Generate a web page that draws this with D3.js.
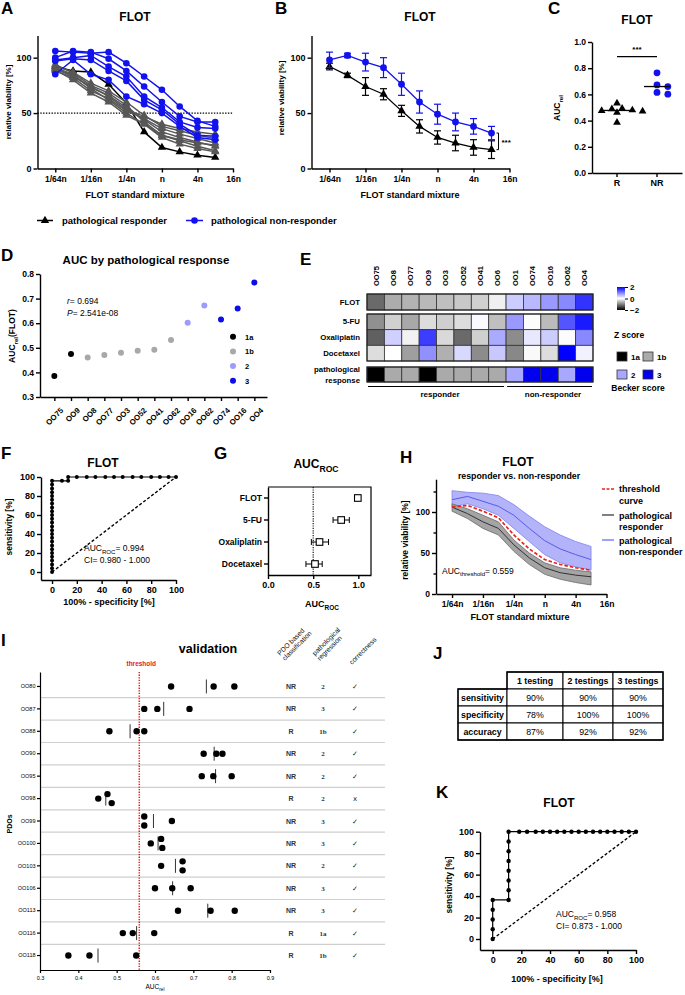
<!DOCTYPE html>
<html><head><meta charset="utf-8">
<script src="https://cdn.jsdelivr.net/npm/d3@7"></script>
<style>body{margin:0;background:#fff}</style>
</head><body>
<svg id="chart" width="685" height="995" xmlns="http://www.w3.org/2000/svg"></svg>
<script>
// ================= DATA =================
const concLabels = ["1/64n","1/32n","1/16n","1/8n","1/4n","1/2n","n","2n","4n","8n","16n"];
const concTickIdx = [0,2,4,6,8,10];
// Panel A: individual curves (relative viability %)
const respCurves = [
  [92, 88, 87, 76, 59, 33, 19, 15, 12, 10],
  [94, 86, 75, 68, 57, 42, 30, 25, 20, 16],
  [90, 84, 73, 66, 55, 44, 33, 28, 24, 20],
  [88, 82, 70, 63, 52, 45, 36, 31, 27, 23],
  [91, 85, 72, 62, 50, 40, 28, 22, 18, 15],
  [89, 80, 68, 60, 48, 40, 30, 26, 23, 21],
  [93, 87, 77, 70, 60, 48, 38, 34, 30, 27],
  [90, 83, 74, 65, 53, 47, 40, 36, 33, 31]
];
const nonRespCurves = [
  [106, 105, 104, 105, 95, 83, 71, 56, 43, 38],
  [100, 106, 105, 99, 88, 74, 60, 47, 42, 42],
  [98, 100, 102, 92, 83, 65, 55, 42, 37, 36],
  [97, 99, 98, 88, 79, 62, 53, 40, 30, 29],
  [85, 98, 85, 80, 65, 58, 50, 38, 28, 26]
];
// Panel B: mean +- SD
const bRespMean = [92, 84, 74, 67, 52, 38, 28, 23, 19, 17];
const bRespSD   = [3, 2, 8, 5, 5, 6, 6, 7, 7, 8];
const bNonMean  = [98, 102, 96, 91, 76, 60, 49, 42, 38, 32];
const bNonSD    = [7, 2, 8, 9, 10, 10, 9, 8, 7, 6];
// Panel C / D: AUC values
const dLabels = ["OO75","OO9","OO8","OO77","OO3","OO52","OO41","OO62","OO16","OO62","OO74","OO16","OO4"];
const dAUC    = [0.385,0.475,0.461,0.471,0.48,0.488,0.492,0.532,0.602,0.672,0.615,0.66,0.765];
const dBecker = ["1a","1a","1b","1b","1b","1b","1b","1b","2","2","3","3","3"];
const beckerLevels = ["1a","1b","2","3"];
const cGroups = ["R","NR"];
// Panel E: heatmap z-scores
const eCols = ["OO75","OO8","OO77","OO9","OO3","OO52","OO41","OO6","OO1","OO74","OO16","OO62","OO4"];
const zFLOT = [-1.17,-0.65,-0.6,-0.55,-0.5,-0.43,-0.37,-0.12,0.4,0.55,0.8,0.93,1.6];
const z5FU  = [-0.87,-0.37,-0.68,-0.27,-0.38,-0.27,0.05,-0.5,0.8,-0.02,-0.53,1.33,1.8];
const zOxa  = [-1.25,0.37,-0.1,1.52,-0.3,-1.17,-0.38,0.67,-0.9,0.18,0.4,-0.02,0.93];
const zDoc  = [-0.27,0,-0.75,0.87,-0.62,0.3,-0.9,0.43,-0.93,-0.05,-0.27,2,0.1];
const eBecker = ["1a","1b","1b","1a","1b","1b","1b","1b","2","3","3","2","3"];
const zTicks = [-2,0,2];
// Panel F: ROC
const fFPR = [0,0,0,0,0,0,0,0,0,0,0,0,0,0,0,0,0,0,0,0,0,0,0,0,0,8,13,13,20,28,35,43,50,57,65,72,80,87,94,100];
const fTPR = [0,4,8,12,16,20,24,28,32,36,40,44,48,52,56,60,64,68,72,76,80,84,88,92,96,96,96,100,100,100,100,100,100,100,100,100,100,100,100,100];
// Panel G: AUC ROC per drug
const gDrugs = ["FLOT","5-FU","Oxaliplatin","Docetaxel"];
const gAUC = [0.994, 0.81, 0.57, 0.52];
const gLo  = [0.98, 0.72, 0.48, 0.42];
const gHi  = [1.0, 0.90, 0.67, 0.60];
// Panel H: bands
const hNRup   = [126, 124, 123, 120, 109, 95, 82, 72, 64, 58];
const hNRmean = [115, 119, 113, 107, 96, 80, 65, 55, 48, 42];
const hNRlo   = [106, 110, 104, 96, 80, 64, 48, 38, 33, 29];
const hThr    = [106, 108, 101, 93, 72, 55, 42, 36, 32, 29];
const hRup    = [110, 104, 96, 88, 66, 50, 38, 32, 29, 27];
const hRmean  = [106, 98, 88, 80, 60, 44, 32, 26, 23, 21];
const hRlo    = [101, 92, 80, 72, 52, 36, 24, 18, 14, 11];
// Panel I: validation
const iPDO = ["OO80","OO87","OO88","OO90","OO95","OO98","OO99","OO100","OO103","OO106","OO113","OO116","OO118"];
const iAUC = [
  [0.642,0.753,0.807],[0.572,0.606,0.69],[0.481,0.552,0.572],[0.727,0.76,0.776],
  [0.722,0.752,0.80],[0.452,0.476,0.487],[0.572,0.572,0.644],[0.589,0.616,0.619],
  [0.616,0.672,0.672],[0.60,0.645,0.693],[0.66,0.745,0.808],[0.516,0.542,0.598],
  [0.374,0.429,0.551]
];
const iClass = ["NR","NR","R","NR","NR","R","NR","NR","NR","NR","NR","R","R"];
const iRegr  = ["2","3","1b","2","2","2","3","3","2","3","3","1a","1b"];
const iCorrect = ["✓","✓","✓","✓","✓","x","✓","✓","✓","✓","✓","✓","✓"];
const iThreshold = 0.559;
// Panel J: table
const jHeader = ["1 testing","2 testings","3 testings"];
const jRows = ["sensitivity","specificity","accuracy"];
const jValues = [["90%","90%","90%"],["78%","100%","100%"],["87%","92%","92%"]];
// Panel K: ROC
const kFPR = [0,0,0,0,0,11.1,11.1,11.1,11.1,11.1,11.1,11.1,11.1,18.5,24,30,35,40,45,50,55,60,65,70,75,80,85,90,95,100];
const kTPR = [0,9.1,18.2,27.3,36.4,36.4,45.5,54.5,63.6,72.7,81.8,90.9,100,100,100,100,100,100,100,100,100,100,100,100,100,100,100,100,100,100];

// ================= HELPERS =================
const FONT = "'Liberation Sans', Arial, sans-serif";
const BLUE = "#1212ee";
const svg = d3.select("#chart");
svg.append("rect").attr("width",685).attr("height",995).attr("fill","#fff");

function styleAxis(g, fs, sw) {
  fs = fs || 9; sw = sw || 1.4;
  g.select(".domain").attr("stroke","#000").attr("stroke-width",sw);
  g.selectAll(".tick line").attr("stroke","#000").attr("stroke-width",sw);
  g.selectAll(".tick text").attr("font-size",fs).attr("font-weight","bold").attr("fill","#000").attr("font-family",FONT);
}
function addText(g, x, y, str, o) {
  o = o || {};
  const t = g.append("text").attr("x",x).attr("y",y).text(str)
    .attr("font-size",o.fs||9).attr("font-weight",o.fw||"bold")
    .attr("text-anchor",o.anchor||"start").attr("fill",o.fill||"#000")
    .attr("font-family",o.ff||FONT);
  if (o.rotate) t.attr("transform",`rotate(${o.rotate},${x},${y})`);
  if (o.italic) t.attr("font-style","italic");
  return t;
}
function addSub(g, x, y, parts, o) {
  o = o || {};
  const fs = o.fs || 9;
  const t = g.append("text").attr("x",x).attr("y",y)
    .attr("font-size",fs).attr("font-weight",o.fw||"bold")
    .attr("text-anchor",o.anchor||"start").attr("fill",o.fill||"#000").attr("font-family",FONT);
  if (o.rotate) t.attr("transform",`rotate(${o.rotate},${x},${y})`);
  let prevSub = false;
  parts.forEach(([s, sub]) => {
    const ts = t.append("tspan").text(s).attr("font-size", sub ? fs*0.72 : fs);
    if (sub && !prevSub) ts.attr("dy", fs*0.3);
    if (!sub && prevSub) ts.attr("dy", -fs*0.3);
    prevSub = sub;
  });
  return t;
}
function panelLetter(x, y, s) { addText(svg, x, y, s, {fs:17}); }
const tri = d3.symbol().type(d3.symbolTriangle).size(30);

// ================= PANEL A =================
(function(){
  const g = svg.append("g");
  const x = d3.scaleLinear().domain([-1,10]).range([37.5,233]);
  const y = d3.scaleLinear().domain([0,120]).range([168.5,35.5]);
  g.append("line").attr("x1",x(-1)).attr("x2",x(10)).attr("y1",y(50)).attr("y2",y(50))
    .attr("stroke","#000").attr("stroke-width",1.2).attr("stroke-dasharray","1.4,1.4");
  const line = d3.line().x((d,i)=>x(i)).y(d=>y(d));
  respCurves.forEach((c,k)=>{
    const col = k===0 ? "#000" : "#575757";
    g.append("path").attr("d",line(c)).attr("fill","none").attr("stroke",col).attr("stroke-width",1.5);
    g.selectAll(null).data(c).enter().append("path").attr("d",tri)
      .attr("transform",(d,i)=>`translate(${x(i)},${y(d)})`).attr("fill",col);
  });
  nonRespCurves.forEach(c=>{
    g.append("path").attr("d",line(c)).attr("fill","none").attr("stroke",BLUE).attr("stroke-width",1.5);
    g.selectAll(null).data(c).enter().append("circle").attr("cx",(d,i)=>x(i)).attr("cy",d=>y(d)).attr("r",3.3).attr("fill",BLUE);
  });
  g.append("g").attr("transform","translate(0,168.5)")
    .call(d3.axisBottom(x).tickValues(concTickIdx).tickFormat(i=>concLabels[i]).tickSize(4).tickSizeOuter(0).tickPadding(3)).call(styleAxis,8.5);
  g.append("g").attr("transform","translate(37.5,0)")
    .call(d3.axisLeft(y).tickValues([0,50,100]).tickSize(4).tickSizeOuter(0).tickPadding(2)).call(styleAxis,9);
  addText(g, 135, 21, "FLOT", {fs:12, anchor:"middle"});
  addText(g, 11, 102, "relative viability [%]", {fs:8, anchor:"middle", rotate:-90});
  addText(g, 135, 198, "FLOT standard mixture", {fs:9, anchor:"middle"});
  panelLetter(1, 14, "A");
})();

// ================= PANEL B =================
(function(){
  const g = svg.append("g");
  const x = d3.scaleLinear().domain([-1,10]).range([311.5,509.5]);
  const y = d3.scaleLinear().domain([0,120]).range([168.5,35.5]);
  const line = d3.line().x((d,i)=>x(i)).y(d=>y(d));
  function series(mean, sd, col, isTri) {
    g.append("path").attr("d",line(mean)).attr("fill","none").attr("stroke",col).attr("stroke-width",1.3);
    const eb = g.selectAll(null).data(mean).enter().append("g");
    eb.append("line").attr("x1",(d,i)=>x(i)).attr("x2",(d,i)=>x(i))
      .attr("y1",(d,i)=>y(d-sd[i])).attr("y2",(d,i)=>y(d+sd[i])).attr("stroke",col).attr("stroke-width",1.2);
    eb.append("line").attr("x1",(d,i)=>x(i)-3.5).attr("x2",(d,i)=>x(i)+3.5)
      .attr("y1",(d,i)=>y(d+sd[i])).attr("y2",(d,i)=>y(d+sd[i])).attr("stroke",col).attr("stroke-width",1.2);
    eb.append("line").attr("x1",(d,i)=>x(i)-3.5).attr("x2",(d,i)=>x(i)+3.5)
      .attr("y1",(d,i)=>y(d-sd[i])).attr("y2",(d,i)=>y(d-sd[i])).attr("stroke",col).attr("stroke-width",1.2);
    if (isTri) eb.append("path").attr("d",tri).attr("transform",(d,i)=>`translate(${x(i)},${y(d)})`).attr("fill",col);
    else eb.append("circle").attr("cx",(d,i)=>x(i)).attr("cy",d=>y(d)).attr("r",3.4).attr("fill",col);
  }
  series(bRespMean, bRespSD, "#000", true);
  series(bNonMean, bNonSD, BLUE, false);
  // significance bracket
  const bx = x(9)+7;
  g.append("path").attr("d",`M${bx-2},${y(bNonMean[9])}H${bx}V${y(bRespMean[9])}H${bx-2}`)
    .attr("fill","none").attr("stroke","#000").attr("stroke-width",1);
  addText(g, bx+3, (y(bNonMean[9])+y(bRespMean[9]))/2+4, "***", {fs:8});
  g.append("g").attr("transform","translate(0,168.5)")
    .call(d3.axisBottom(x).tickValues(concTickIdx).tickFormat(i=>concLabels[i]).tickSize(4).tickSizeOuter(0).tickPadding(3)).call(styleAxis,8.5);
  g.append("g").attr("transform","translate(311.5,0)")
    .call(d3.axisLeft(y).tickValues([0,50,100]).tickSize(4).tickSizeOuter(0).tickPadding(2)).call(styleAxis,9);
  addText(g, 420, 21, "FLOT", {fs:12, anchor:"middle"});
  addText(g, 284, 98, "relative viability [%]", {fs:8, anchor:"middle", rotate:-90});
  addText(g, 410, 198, "FLOT standard mixture", {fs:9, anchor:"middle"});
  panelLetter(275, 14, "B");
  // legend (A/B)
  svg.append("line").attr("x1",37).attr("x2",53).attr("y1",220.5).attr("y2",220.5).attr("stroke","#000").attr("stroke-width",1.5);
  svg.append("path").attr("d",tri).attr("transform","translate(45,220.5)").attr("fill","#000");
  addText(svg, 62, 224, "pathological responder", {fs:9.5});
  svg.append("line").attr("x1",186).attr("x2",203).attr("y1",220.5).attr("y2",220.5).attr("stroke",BLUE).attr("stroke-width",1.5);
  svg.append("circle").attr("cx",194.5).attr("cy",220.5).attr("r",3.3).attr("fill",BLUE);
  addText(svg, 211, 224, "pathological non-responder", {fs:9.5});
})();

// ================= PANEL C =================
(function(){
  const g = svg.append("g");
  const y = d3.scaleLinear().domain([0,1]).range([173,42]);
  const x = d3.scaleBand().domain(cGroups).range([592,682]).paddingInner(0).paddingOuter(0.125);
  const rVals = dAUC.filter((d,i)=>dBecker[i]==="1a"||dBecker[i]==="1b");
  const nrVals = dAUC.filter((d,i)=>dBecker[i]==="2"||dBecker[i]==="3");
  function swarm(vals, cx, rad) {
    const placed = [];
    const idx = vals.map((v,i)=>i).sort((a,b)=>d3.descending(vals[a],vals[b]));
    const out = new Array(vals.length);
    idx.forEach(i=>{
      const py = y(vals[i]);
      for (let k=0;k<20;k++){
        const off = (k===0?0:(k%2? 1:-1)*Math.ceil(k/2)*rad*1.55);
        const px = cx+off;
        if (placed.every(p=>Math.hypot(p[0]-px,p[1]-py)>=rad*1.7)) { placed.push([px,py]); out[i]=[px,py]; break; }
      }
    });
    return out;
  }
  const cx = g=>x(g)+x.bandwidth()/2;
  const rPos = swarm(rVals, cx("R"), 3.3);
  const nrPos = swarm(nrVals, cx("NR"), 3.5);
  g.selectAll(null).data(rPos).enter().append("path").attr("d",d3.symbol().type(d3.symbolTriangle).size(26))
    .attr("transform",d=>`translate(${d[0]},${d[1]})`).attr("fill","#000");
  g.selectAll(null).data(nrPos).enter().append("circle").attr("cx",d=>d[0]).attr("cy",d=>d[1]).attr("r",3.4).attr("fill",BLUE);
  [[rVals,"R"],[nrVals,"NR"]].forEach(([v,k])=>{
    g.append("line").attr("x1",cx(k)-13).attr("x2",cx(k)+13).attr("y1",y(d3.median(v))).attr("y2",y(d3.median(v)))
      .attr("stroke","#000").attr("stroke-width",1.3);
  });
  g.append("line").attr("x1",cx("R")).attr("x2",cx("NR")).attr("y1",56.7).attr("y2",56.7).attr("stroke","#000").attr("stroke-width",1.2);
  addText(g, (cx("R")+cx("NR"))/2, 52, "***", {fs:8, anchor:"middle"});
  g.append("g").attr("transform","translate(0,173)")
    .call(d3.axisBottom(x).tickSize(4).tickSizeOuter(0).tickPadding(3)).call(styleAxis,9);
  g.append("g").attr("transform","translate(592,0)")
    .call(d3.axisLeft(y).tickValues([0,0.2,0.4,0.6,0.8,1.0]).tickFormat(d3.format(".1f")).tickSize(4).tickSizeOuter(0).tickPadding(2)).call(styleAxis,8.5);
  addText(g, 637, 24, "FLOT", {fs:12, anchor:"middle"});
  addSub(g, 560, 108, [["AUC",false],["rel",true]], {fs:8.5, anchor:"middle", rotate:-90});
  panelLetter(548, 14, "C");
})();

// ================= PANEL D =================
(function(){
  const g = svg.append("g");
  const y = d3.scaleLinear().domain([0.3,0.8]).range([397,274]);
  const x = d3.scaleLinear().domain([-0.86,12.76]).range([40,267]);
  const bcol = d3.scaleOrdinal().domain(beckerLevels).range(["#000","#a8a8a8","#9c9cff","#0d0de8"]);
  g.selectAll(null).data(dAUC).enter().append("circle").attr("cx",(d,i)=>x(i)).attr("cy",d=>y(d)).attr("r",3)
    .attr("fill",(d,i)=>bcol(dBecker[i]));
  const ax = g.append("g").attr("transform","translate(0,397)")
    .call(d3.axisBottom(x).tickValues(d3.range(dLabels.length)).tickFormat(i=>dLabels[i]).tickSize(4).tickSizeOuter(0)).call(styleAxis,7.8);
  ax.selectAll(".tick text").attr("text-anchor","end").attr("dy",0).attr("dx",0)
    .attr("transform","translate(4,9) rotate(-45)");
  g.append("g").attr("transform","translate(40,0)")
    .call(d3.axisLeft(y).tickValues([0.3,0.4,0.5,0.6,0.7,0.8]).tickFormat(d3.format(".1f")).tickSize(4).tickSizeOuter(0).tickPadding(2)).call(styleAxis,8.5);
  addText(g, 146, 264, "AUC by pathological response", {fs:11.5, anchor:"middle"});
  addSub(g, 15, 336, [["AUC",false],["rel",true],["(FLOT)",false]], {fs:8.5, anchor:"middle", rotate:-90});
  const t1 = g.append("text").attr("x",67).attr("y",304).attr("font-size",8.5).attr("font-family",FONT);
  t1.append("tspan").text("r").attr("font-style","italic"); t1.append("tspan").text("= 0.694");
  const t2 = g.append("text").attr("x",67).attr("y",316).attr("font-size",8.5).attr("font-family",FONT);
  t2.append("tspan").text("P").attr("font-style","italic"); t2.append("tspan").text("= 2.541e-08");
  beckerLevels.forEach((b,i)=>{
    const yy = 336.7 + i*14.7;
    g.append("circle").attr("cx",233).attr("cy",yy).attr("r",3).attr("fill",bcol(b));
    addText(g, 245, yy+3, b, {fs:7.5});
  });
  panelLetter(1, 261, "D");
})();

// ================= PANEL E =================
(function(){
  const g = svg.append("g");
  const x = d3.scaleBand().domain(eCols).range([367,593]);
  const zc = d3.scaleLinear().domain([-2,0,2]).range(["#000000","#ffffff","#0000ff"]).clamp(true);
  const bcol = d3.scaleOrdinal().domain(beckerLevels).range(["#000","#aaaaaa","#a8a8ff","#0000ee"]);
  const y1 = d3.scaleBand().domain(["FLOT"]).range([294,310]);
  const y2 = d3.scaleBand().domain(["5-FU","Oxaliplatin","Docetaxel"]).range([314,361]);
  const y3 = d3.scaleBand().domain(["pathological response"]).range([367,382]);
  const rows = [["FLOT",zFLOT,y1],["5-FU",z5FU,y2],["Oxaliplatin",zOxa,y2],["Docetaxel",zDoc,y2]];
  rows.forEach(([name,vals,ys])=>{
    g.selectAll(null).data(vals).enter().append("rect")
      .attr("x",(d,i)=>x(eCols[i])).attr("y",ys(name)).attr("width",x.bandwidth()).attr("height",ys.bandwidth())
      .attr("fill",d=>zc(d)).attr("stroke","#333").attr("stroke-width",0.8);
  });
  g.selectAll(null).data(eBecker).enter().append("rect")
    .attr("x",(d,i)=>x(eCols[i])).attr("y",y3("pathological response")).attr("width",x.bandwidth()).attr("height",y3.bandwidth())
    .attr("fill",d=>bcol(d)).attr("stroke","#333").attr("stroke-width",0.8);
  [[y1],[y2],[y3]].forEach(([ys])=>{
    g.append("rect").attr("x",367).attr("y",ys.range()[0]).attr("width",226).attr("height",ys.range()[1]-ys.range()[0])
      .attr("fill","none").attr("stroke","#222").attr("stroke-width",1.1);
  });
  eCols.forEach(c=>{
    addText(g, x(c)+x.bandwidth()/2+3, 286, c, {fs:7.5, rotate:-90});
  });
  addText(g, 360, 304.5, "FLOT", {fs:7.8, anchor:"end"});
  addText(g, 360, 324, "5-FU", {fs:7.8, anchor:"end"});
  addText(g, 360, 340, "Oxaliplatin", {fs:7.8, anchor:"end"});
  addText(g, 360, 356, "Docetaxel", {fs:7.8, anchor:"end"});
  addText(g, 360, 372, "pathological", {fs:7.8, anchor:"end"});
  addText(g, 360, 383, "response", {fs:7.8, anchor:"end"});
  const splitI = eBecker.findIndex(b=>b==="2");
  g.append("line").attr("x1",368).attr("x2",x(eCols[splitI])-2).attr("y1",386.5).attr("y2",386.5).attr("stroke","#000").attr("stroke-width",1);
  g.append("line").attr("x1",x(eCols[splitI])+1).attr("x2",592).attr("y1",386.5).attr("y2",386.5).attr("stroke","#000").attr("stroke-width",1);
  addText(g, 440, 396.5, "responder", {fs:8, anchor:"middle"});
  addText(g, 553, 396.5, "non-responder", {fs:8, anchor:"middle"});
  const defs = svg.append("defs");
  const grad = defs.append("linearGradient").attr("id","zgrad").attr("x1",0).attr("x2",0).attr("y1",1).attr("y2",0);
  [-2,-1,0,1,2].forEach(v=>grad.append("stop").attr("offset",(v+2)/4).attr("stop-color",zc(v)));
  const cy = d3.scaleLinear().domain([-2,2]).range([310,287]);
  g.append("rect").attr("x",617).attr("y",287).attr("width",8).attr("height",23).attr("fill","url(#zgrad)");
  const cax = g.append("g").attr("transform","translate(625,0)")
    .call(d3.axisRight(cy).tickValues(zTicks).tickFormat(d3.format("d")).tickSize(3).tickSizeOuter(0).tickPadding(2));
  styleAxis(cax, 8, 1); cax.select(".domain").remove();
  addText(g, 629, 338, "Z score", {fs:8.5, anchor:"middle"});
  const leg = [["1a",617,352],["1b",643,352],["2",617,370],["3",643,370]];
  leg.forEach(([b,lx,ly])=>{
    g.append("rect").attr("x",lx).attr("y",ly).attr("width",10).attr("height",9).attr("fill",bcol(b)).attr("stroke","#333").attr("stroke-width",0.8);
    addText(g, lx+14, ly+8, b, {fs:8});
  });
  addText(g, 638, 391, "Becker score", {fs:8.5, anchor:"middle"});
  panelLetter(300, 265, "E");
})();

// ================= PANEL F =================
(function(){
  const g = svg.append("g");
  const x = d3.scaleLinear().domain([-8.9,100]).range([41,176]);
  const y = d3.scaleLinear().domain([-8.4,100]).range([580,477]);
  g.append("line").attr("x1",x(0)).attr("y1",y(0)).attr("x2",x(100)).attr("y2",y(100))
    .attr("stroke","#000").attr("stroke-width",1.4).attr("stroke-dasharray","3,2");
  const line = d3.line().x(d=>x(d[0])).y(d=>y(d[1]));
  const pts = fFPR.map((v,i)=>[v,fTPR[i]]);
  g.append("path").attr("d",line(pts)).attr("fill","none").attr("stroke","#000").attr("stroke-width",1.2);
  g.selectAll(null).data(pts).enter().append("circle").attr("cx",d=>x(d[0])).attr("cy",d=>y(d[1])).attr("r",2).attr("fill","#000");
  g.append("g").attr("transform","translate(0,580)")
    .call(d3.axisBottom(x).tickValues([0,20,40,60,80,100]).tickSize(4).tickSizeOuter(0).tickPadding(3)).call(styleAxis,9);
  g.append("g").attr("transform","translate(41,0)")
    .call(d3.axisLeft(y).tickValues([0,20,40,60,80,100]).tickSize(4).tickSizeOuter(0).tickPadding(2)).call(styleAxis,9);
  addText(g, 103, 467, "FLOT", {fs:12, anchor:"middle"});
  addText(g, 12, 527, "sensitivity [%]", {fs:8.5, anchor:"middle", rotate:-90});
  addText(g, 109, 604.5, "100% - specificity [%]", {fs:9, anchor:"middle"});
  addSub(g, 84, 551, [["AUC",false],["ROC",true],["= 0.994",false]], {fs:8.5, fw:"normal"});
  addText(g, 84, 562.5, "CI= 0.980 - 1.000", {fs:8.5, fw:"normal"});
  panelLetter(1, 459, "F");
})();

// ================= PANEL G =================
(function(){
  const g = svg.append("g");
  const x = d3.scaleLinear().domain([0,1.14]).range([268,371]);
  const y = d3.scaleBand().domain(gDrugs).range([487,575]);
  const cy = d => y(d)+y.bandwidth()/2;
  g.append("line").attr("x1",x(0.5)).attr("x2",x(0.5)).attr("y1",487).attr("y2",575)
    .attr("stroke","#000").attr("stroke-width",1.1).attr("stroke-dasharray","1.2,1.2");
  g.append("path").attr("d","M268,487H371V575").attr("fill","none").attr("stroke","#000").attr("stroke-width",1.2);
  gDrugs.forEach((d,i)=>{
    const yy = cy(d);
    g.append("line").attr("x1",x(gLo[i])).attr("x2",x(gHi[i])).attr("y1",yy).attr("y2",yy).attr("stroke","#000").attr("stroke-width",1);
    [gLo[i],gHi[i]].forEach(v=>g.append("line").attr("x1",x(v)).attr("x2",x(v)).attr("y1",yy-3).attr("y2",yy+3).attr("stroke","#000").attr("stroke-width",1));
    g.append("rect").attr("x",x(gAUC[i])-3.3).attr("y",yy-3.3).attr("width",6.6).attr("height",6.6)
      .attr("fill","#fff").attr("stroke","#000").attr("stroke-width",1.1);
  });
  g.append("g").attr("transform","translate(0,575)")
    .call(d3.axisBottom(x).tickValues([0,0.5,1.0]).tickFormat(d3.format(".1f")).tickSize(4).tickSizeOuter(0).tickPadding(3)).call(styleAxis,9);
  g.append("g").attr("transform","translate(268,0)")
    .call(d3.axisLeft(y).tickSize(4).tickSizeOuter(0).tickPadding(2)).call(styleAxis,8.5);
  addSub(g, 316, 468, [["AUC",false],["ROC",true]], {fs:12, anchor:"middle"});
  addSub(g, 322, 607, [["AUC",false],["ROC",true]], {fs:9, anchor:"middle"});
  panelLetter(214, 459, "G");
})();

// ================= PANEL H =================
(function(){
  const g = svg.append("g");
  const x = d3.scaleLinear().domain([-1.04,10]).range([436,606.5]);
  const y = d3.scaleLinear().domain([0,140]).range([594,479.2]);
  const area = (lo,hi)=>d3.area().x((d,i)=>x(i)).y0((d,i)=>y(lo[i])).y1((d,i)=>y(hi[i]))(lo);
  const line = d3.line().x((d,i)=>x(i)).y(d=>y(d));
  g.append("path").attr("d",area(hNRlo,hNRup)).attr("fill","#b3b3f9").attr("stroke","#8080f0").attr("stroke-width",0.8);
  g.append("path").attr("d",line(hNRmean)).attr("fill","none").attr("stroke","#5a5ae8").attr("stroke-width",1);
  g.append("path").attr("d",area(hRlo,hRup)).attr("fill","#9a9a9a").attr("fill-opacity",0.9).attr("stroke","#6a6a6a").attr("stroke-width",0.8);
  g.append("path").attr("d",line(hRmean)).attr("fill","none").attr("stroke","#333").attr("stroke-width",1);
  g.append("path").attr("d",line(hThr)).attr("fill","none").attr("stroke","#e8231b").attr("stroke-width",1.7).attr("stroke-dasharray","3.5,2");
  g.append("g").attr("transform","translate(0,594)")
    .call(d3.axisBottom(x).tickValues(concTickIdx).tickFormat(i=>concLabels[i]).tickSize(4).tickSizeOuter(0).tickPadding(3)).call(styleAxis,8.5);
  const yax = g.append("g").attr("transform","translate(436,0)")
    .call(d3.axisLeft(y).tickValues([0,25,50,75,100,125]).tickFormat(d=>d%50===0?d:"").tickSize(4).tickSizeOuter(0).tickPadding(2));
  styleAxis(yax,8.5);
  yax.selectAll(".tick").filter(d=>d%50!==0).select("line").attr("x2",-2.5);
  addText(g, 518, 466, "FLOT", {fs:12, anchor:"middle"});
  addText(g, 519, 478.5, "responder vs. non-responder", {fs:8.8, anchor:"middle"});
  addText(g, 408, 540, "relative viability [%]", {fs:8.5, anchor:"middle", rotate:-90});
  addText(g, 520, 620, "FLOT standard mixture", {fs:9, anchor:"middle"});
  addSub(g, 442, 573.5, [["AUC",false],["threshold",true],["= 0.559",false]], {fs:8.5, fw:"normal"});
  g.append("line").attr("x1",602).attr("x2",614).attr("y1",489).attr("y2",489).attr("stroke","#e8231b").attr("stroke-width",1.7).attr("stroke-dasharray","3,1.5");
  addText(g, 619, 492, "threshold", {fs:9});
  addText(g, 619, 503.5, "curve", {fs:9});
  g.append("line").attr("x1",602).attr("x2",614).attr("y1",515).attr("y2",515).attr("stroke","#808080").attr("stroke-width",2);
  addText(g, 619, 518.5, "pathological", {fs:9});
  addText(g, 619, 530, "responder", {fs:9});
  g.append("line").attr("x1",602).attr("x2",614).attr("y1",540).attr("y2",540).attr("stroke","#a0a0f5").attr("stroke-width",2);
  addText(g, 619, 543.5, "pathological", {fs:9});
  addText(g, 619, 555, "non-responder", {fs:9});
  panelLetter(400, 463, "H");
})();

// ================= PANEL I =================
(function(){
  const g = svg.append("g");
  const x = d3.scaleLinear().domain([0.3,0.9]).range([40,270]);
  const y = d3.scaleBand().domain(iPDO).range([672,970]).paddingInner(0).paddingOuter(0.145);
  const cy = d => y(d)+y.bandwidth()/2;
  iPDO.slice(1).forEach(p=>{
    g.append("line").attr("x1",40).attr("x2",385).attr("y1",y(p)).attr("y2",y(p)).attr("stroke","#cfcfcf").attr("stroke-width",1.2);
  });
  g.append("line").attr("x1",x(iThreshold)).attr("x2",x(iThreshold)).attr("y1",672).attr("y2",970)
    .attr("stroke","#e3201b").attr("stroke-width",1.5).attr("stroke-dasharray","1.3,1.3");
  addText(g, x(iThreshold)+2, 666, "threshold", {fs:6.5, anchor:"middle", fill:"#e3201b"});
  iPDO.forEach((p,r)=>{
    const vals = iAUC[r];
    const yy = cy(p);
    const m = d3.mean(vals);
    g.append("line").attr("x1",x(m)).attr("x2",x(m)).attr("y1",yy-7).attr("y2",yy+7).attr("stroke","#333").attr("stroke-width",1);
    const off = vals.map(()=>0);
    for (let i=1;i<vals.length;i++){
      if (Math.abs(vals[i]-vals[i-1])<0.013){ off[i-1]=-4.5; off[i]=4.5; }
    }
    g.selectAll(null).data(vals).enter().append("circle").attr("cx",d=>x(d)).attr("cy",(d,i)=>yy+off[i]).attr("r",3.2).attr("fill","#000");
    addText(g, 291, yy+2.5, iClass[r], {fs:7, fw:"bold", anchor:"middle", fill:"#333"});
    addText(g, 323, yy+2.5, iRegr[r], {fs:7, fw:"bold", anchor:"middle", fill:"#333", ff:"'Liberation Serif', serif"});
    addText(g, 355, yy+2.5, iCorrect[r], {fs:7, fw:"normal", anchor:"middle", fill:"#222", ff:"'DejaVu Sans', sans-serif"});
  });
  const xa = g.append("g").attr("transform","translate(0,970)")
    .call(d3.axisBottom(x).tickValues([0.3,0.4,0.5,0.6,0.7,0.8,0.9]).tickFormat(d3.format(".1f")).tickSize(3).tickSizeOuter(0).tickPadding(3));
  styleAxis(xa,5.5,1.2); xa.selectAll(".tick text").attr("font-weight","normal");
  const ya = g.append("g").attr("transform","translate(40,0)")
    .call(d3.axisLeft(y).tickSize(3).tickSizeOuter(0).tickPadding(1.5));
  styleAxis(ya,5.5,1.2); ya.selectAll(".tick text").attr("font-weight","normal");
  addText(g, 208, 653, "validation", {fs:12.5, anchor:"middle"});
  addSub(g, 155, 989, [["AUC",false],["rel",true]], {fs:6.5, fw:"normal", anchor:"middle"});
  addText(g, 12, 824, "PDOs", {fs:7, anchor:"middle", rotate:-90});
  function rotHeader(x0, y0, lines) {
    const hg = g.append("g").attr("transform",`translate(${x0},${y0}) rotate(-45)`);
    lines.forEach((l,i)=>hg.append("text").attr("x",0).attr("y",i*7).text(l).attr("font-size",6.8).attr("font-family",FONT).attr("fill","#111"));
  }
  rotHeader(280, 656, ["PDO based","classification"]);
  rotHeader(315, 656, ["pathological","regression"]);
  rotHeader(352, 665, ["correctness"]);
  panelLetter(1, 646, "I");
})();

// ================= PANEL J =================
(function(){
  const g = svg.append("g");
  const edges = d3.scaleOrdinal().domain(["label"].concat(jHeader)).range([[458,507],[507,563],[563,613],[613,663]]);
  const rowY = d3.scaleBand().domain(["header"].concat(jRows)).range([672,740]);
  const h = rowY.bandwidth();
  jHeader.forEach(c=>{
    const [a,b] = edges(c);
    g.append("rect").attr("x",a).attr("y",rowY("header")).attr("width",b-a).attr("height",h).attr("fill","#fff").attr("stroke","#000").attr("stroke-width",1);
    addText(g, (a+b)/2, rowY("header")+h/2+3.2, c, {fs:8.8, anchor:"middle"});
  });
  jRows.forEach((r,ri)=>{
    const [a,b] = edges("label");
    g.append("rect").attr("x",a).attr("y",rowY(r)).attr("width",b-a).attr("height",h).attr("fill","#fff").attr("stroke","#000").attr("stroke-width",1);
    addText(g, (a+b)/2, rowY(r)+h/2+3.2, r, {fs:8.8, anchor:"middle"});
    jHeader.forEach((c,ci)=>{
      const [a2,b2] = edges(c);
      g.append("rect").attr("x",a2).attr("y",rowY(r)).attr("width",b2-a2).attr("height",h).attr("fill","#fff").attr("stroke","#000").attr("stroke-width",1);
      addText(g, (a2+b2)/2, rowY(r)+h/2+3.2, jValues[ri][ci], {fs:8.8, fw:"normal", anchor:"middle"});
    });
  });
  g.append("path").attr("d","M507,672H663V740H458V689H507Z").attr("fill","none").attr("stroke","#000").attr("stroke-width",1.3);
  panelLetter(433, 659, "J");
})();

// ================= PANEL K =================
(function(){
  const g = svg.append("g");
  const x = d3.scaleLinear().domain([-8.86,100]).range([480,636]);
  const y = d3.scaleLinear().domain([-10.25,100]).range([950,831.7]);
  g.append("line").attr("x1",x(0)).attr("y1",y(0)).attr("x2",x(100)).attr("y2",y(100))
    .attr("stroke","#000").attr("stroke-width",1.4).attr("stroke-dasharray","3,2");
  const pts = kFPR.map((v,i)=>[v,kTPR[i]]);
  g.append("path").attr("d",d3.line().x(d=>x(d[0])).y(d=>y(d[1]))(pts)).attr("fill","none").attr("stroke","#000").attr("stroke-width",1.2);
  g.selectAll(null).data(pts).enter().append("circle").attr("cx",d=>x(d[0])).attr("cy",d=>y(d[1])).attr("r",2.2).attr("fill","#000");
  g.append("g").attr("transform","translate(0,950)")
    .call(d3.axisBottom(x).tickValues([0,20,40,60,80,100]).tickSize(4).tickSizeOuter(0).tickPadding(3)).call(styleAxis,9);
  g.append("g").attr("transform","translate(480,0)")
    .call(d3.axisLeft(y).tickValues([0,20,40,60,80,100]).tickSize(4).tickSizeOuter(0).tickPadding(2)).call(styleAxis,9);
  addText(g, 559, 807, "FLOT", {fs:12, anchor:"middle"});
  addText(g, 452, 885, "sensitivity [%]", {fs:8.5, anchor:"middle", rotate:-90});
  addText(g, 557, 982, "100% - specificity [%]", {fs:9, anchor:"middle"});
  addSub(g, 556, 917, [["AUC",false],["ROC",true],["= 0.958",false]], {fs:8.5, fw:"normal"});
  addText(g, 556, 929, "CI= 0.873 - 1.000", {fs:8.5, fw:"normal"});
  panelLetter(436, 798, "K");
})();
</script>
</body></html>
